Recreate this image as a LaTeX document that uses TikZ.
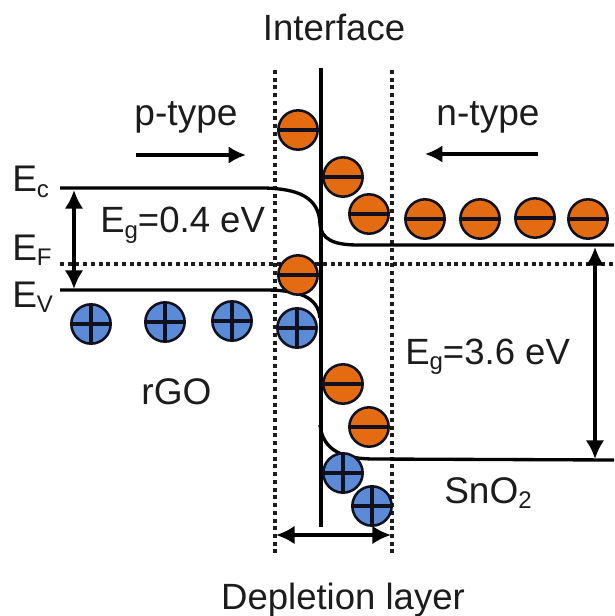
\documentclass[tikz,border=0pt]{standalone}
\usepackage{fontspec}
\setmainfont{Liberation Sans}
\usetikzlibrary{arrows.meta}
\definecolor{eorange}{HTML}{E36C12}
\definecolor{hblue}{HTML}{5B8BD6}
\definecolor{ink}{HTML}{1C1C1C}
\definecolor{bar}{HTML}{10101E}
\tikzset{
  charge/.style={circle,draw=bar,line width=1.9pt,minimum size=29.5pt,inner sep=0pt},
  electron/.style={charge,fill=eorange,path picture={
    \draw[bar,line width=2.6pt] (path picture bounding box.west) -- (path picture bounding box.east);}},
  hole/.style={charge,fill=hblue,path picture={
    \draw[bar,line width=2.6pt] (path picture bounding box.west) -- (path picture bounding box.east);
    \draw[bar,line width=2.6pt] (path picture bounding box.north) -- (path picture bounding box.south);}},
  band/.style={draw=black,line width=2.5pt},
  dots/.style={draw=ink,line width=3pt,dash pattern=on 3pt off 2.8pt},
  arrowline/.style={draw=black,line width=2.5pt},
  dbl/.style={arrowline,{Latex[length=14pt,width=14pt]}-{Latex[length=14pt,width=14pt]}},
  sgl/.style={arrowline,-{Latex[length=13pt,width=13pt]}},
  lbl/.style={text=ink,font=\fontsize{27.8pt}{30pt}\selectfont,inner sep=0pt,anchor=base},
  lblb/.style={lbl,font=\fontsize{27.4pt}{30pt}\selectfont},
}
\newcommand{\sbs}[1]{\raisebox{-0.14em}{\fontsize{18pt}{19pt}\selectfont #1}}
\begin{document}
\begin{tikzpicture}[x=0.75pt,y=-0.75pt]
\useasboundingbox (0,0) rectangle (614,616);
% coordinates
\coordinate (dlT) at (275,70); \coordinate (dlB) at (275,555);
\coordinate (drT) at (392,70); \coordinate (drB) at (392,557);
\coordinate (efL) at (60,264); \coordinate (efR) at (614,264);
\coordinate (ifT) at (321,68); \coordinate (ifB) at (321,527);
\coordinate (ecL) at (60,188); \coordinate (evL) at (60,290);
\coordinate (cR) at (614,245); \coordinate (vR) at (614,460);
\coordinate (a1) at (74,190); \coordinate (a2) at (74,289);
\coordinate (b1) at (595,247); \coordinate (b2) at (595,459);
\coordinate (d1) at (276,535); \coordinate (d2) at (391,535);
\coordinate (p1) at (136,155); \coordinate (p2) at (246,155);
\coordinate (n1) at (538,154); \coordinate (n2) at (425,154);
% dotted lines
\draw[dots] (dlT) -- (dlB);
\draw[dots] (drT) -- (drB);
\draw[dots] (efL) -- (efR);
% bands
\draw[band] (ecL) -- (265,188) .. controls (298,189) and (319,197) .. (320,224);
\draw[band] (cR) -- (358,245) .. controls (335,245) and (321,240) .. (320,224);
\draw[band] (evL) -- (265,290) .. controls (297,290) and (318,296) .. (320,318);
\draw[band] (vR) -- (375,459) .. controls (345,459) and (323,452) .. (320,425);
\draw[band,line width=2.7pt] (ifT) -- (ifB);
% arrows
\draw[dbl] (a1) -- (a2);
\draw[dbl] (b1) -- (b2);
\draw[dbl] (d1) -- (d2);
\draw[sgl] (p1) -- (p2);
\draw[sgl] (n1) -- (n2);
% charges
\node[electron] (e1) at (298,130) {};
\node[electron] (e2) at (343,177) {};
\node[electron] (e3) at (369,214) {};
\node[electron] (e4) at (425,219) {};
\node[electron] (e5) at (480,219) {};
\node[electron] (e6) at (535,218) {};
\node[electron] (e7) at (588,219) {};
\node[electron] (e8) at (298,275) {};
\node[electron] (e9) at (343,384) {};
\node[electron] (e10) at (369,427) {};
\node[hole] (h1) at (91,324) {};
\node[hole] (h2) at (165,322) {};
\node[hole] (h3) at (232,321) {};
\node[hole] (h4) at (297,328) {};
\node[hole] (h5) at (343,473) {};
\node[hole] (h6) at (372,506) {};
% labels
\node[lblb] (tI) at (334,41) {Interface};
\node[lbl] (tP) at (186,126) {p-type};
\node[lbl] (tN) at (488,126) {n-type};
\node[lbl,anchor=base west] (tEc) at (12,192) {E\sbs{c}};
\node[lbl,anchor=base west] (tEf) at (12,260) {E\sbs{F}};
\node[lbl,anchor=base west] (tEv) at (12,307) {E\sbs{V}};
\node[lblb,anchor=base west] (tE1) at (100,233) {E\sbs{g}=0.4 eV};
\node[lblb,anchor=base west] (tE2) at (405,364) {E\sbs{g}=3.6 eV};
\node[lbl] (tR) at (176.5,404) {rGO};
\node[lbl,anchor=base west] (tS) at (444,503) {SnO\sbs{2}};
\node[lblb] (tD) at (343,609) {Depletion layer};
\end{tikzpicture}
\end{document}
